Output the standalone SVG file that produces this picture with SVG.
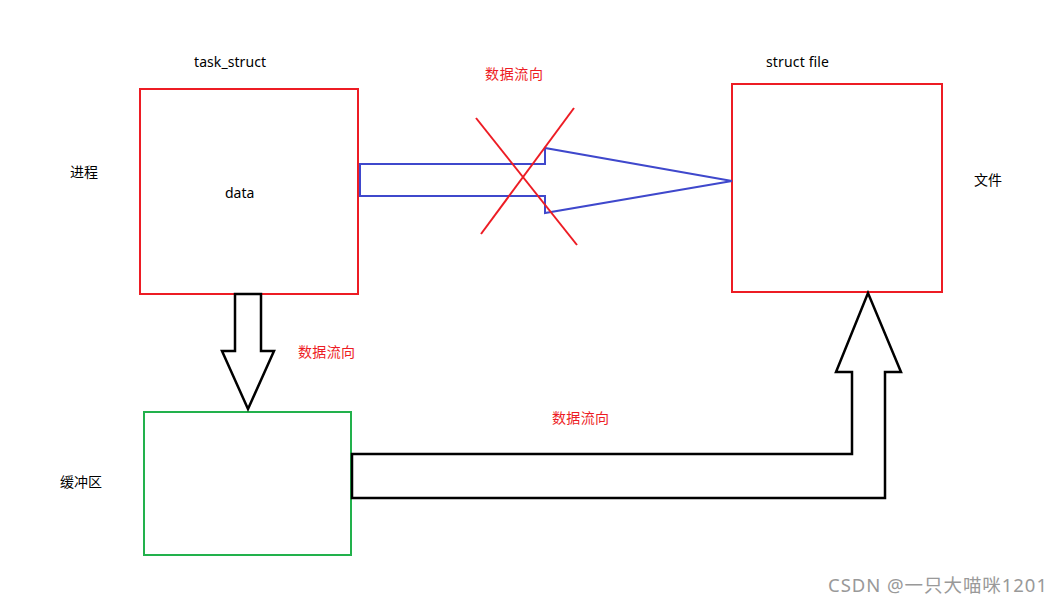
<svg xmlns="http://www.w3.org/2000/svg" width="1063" height="607" viewBox="0 0 1063 607">
<style>
.t{font-family:"Noto Sans","Noto Sans CJK SC",sans-serif;font-size:14px;fill:#000}
.r{fill:#ED1C24}
.box{fill:none;stroke-width:2}
.arrow{fill:none;stroke:#000;stroke-width:2.5;stroke-linejoin:miter}
</style>
<rect width="1063" height="607" fill="#fff"/>
<g id="process">
<rect class="box" x="140" y="89" width="218" height="205" stroke="#ED1C24"/>
<text class="t" x="194" y="67" textLength="72">task_struct</text>
<text class="t" x="225" y="198">data</text>
<text class="t" x="70" y="177">进程</text>
</g>
<g id="file">
<rect class="box" x="732" y="84" width="210" height="208" stroke="#ED1C24"/>
<text class="t" x="766" y="67" textLength="63">struct file</text>
<text class="t" x="974" y="185">文件</text>
</g>
<g id="buffer">
<rect class="box" x="144" y="412" width="207" height="143" stroke="#22B14C"/>
<text class="t" x="60" y="487">缓冲区</text>
</g>
<g id="connectors">
<polygon points="360,164 545,164 545,148 732,181 545,213 545,196 360,196" fill="none" stroke="#3F48CC" stroke-width="2"/>
<line x1="476" y1="118" x2="577" y2="245" stroke="#ED1C24" stroke-width="2"/>
<line x1="574" y1="108" x2="481" y2="234" stroke="#ED1C24" stroke-width="2"/>
<text class="t r" x="485" y="79" textLength="58">数据流向</text>
<polygon class="arrow" points="235,294 261,294 261,351 274,351 248,409 222,351 235,351"/>
<text class="t r" x="298" y="357" textLength="57">数据流向</text>
<polygon class="arrow" points="352,454 852,454 852,372 836,372 868,293 901,372 885,372 885,498 352,498"/>
<text class="t r" x="552" y="423" textLength="57">数据流向</text>
</g>
<text x="828" y="592" font-family="'Noto Sans','Noto Sans CJK SC',sans-serif" font-size="18.5" fill="#999" textLength="219">CSDN @一只大喵咪1201</text>
</svg>
